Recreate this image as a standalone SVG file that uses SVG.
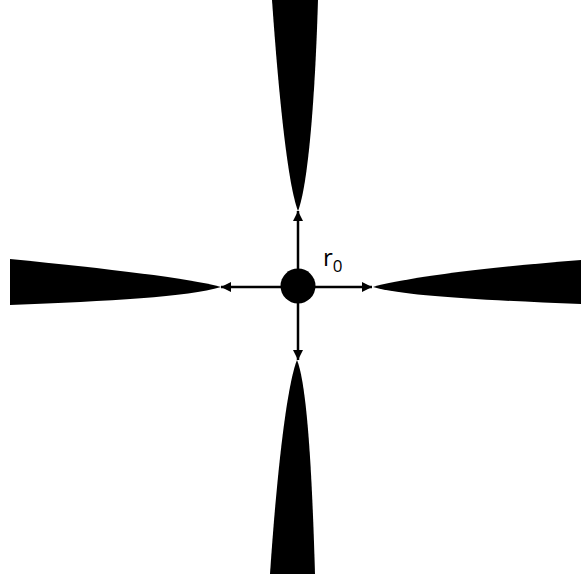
<svg xmlns="http://www.w3.org/2000/svg" width="581" height="584" viewBox="0 0 581 584">
<defs>
<marker id="ah" viewBox="0 0 10 10" refX="10" refY="5" markerWidth="4" markerHeight="4" markerUnits="strokeWidth" orient="auto">
<path d="M0,0 L10,5 L0,10 Z" fill="#000"/>
</marker>
</defs>
<style>
.spike{fill:#000}
.conn{stroke:#000;stroke-width:2.5;fill:none;marker-end:url(#ah)}
.lbl{font-family:"Open Sans","Liberation Sans",sans-serif;fill:#000}
</style>
<rect width="581" height="584" fill="#fff"/>
<g id="spike-top"><path class="spike" d="M272,0 L318,0 C315,100 308,185 298,211 C288,185 279,100 272,0 Z"/></g>
<g id="spike-bottom"><path class="spike" d="M270,574 L315,574 C312,470 307,385 297,360 C287,385 277,470 270,574 Z"/></g>
<g id="spike-left"><path class="spike" d="M10,259 L10,305 C110,301 188,297 221,287 C188,278 110,269 10,259 Z"/></g>
<g id="spike-right"><path class="spike" d="M581,260 L581,304 C480,300 405,296 373,287 C405,278 480,268 581,260 Z"/></g>
<g id="connectors">
<line class="conn" x1="298" y1="287" x2="298" y2="211"/>
<line class="conn" x1="298" y1="287" x2="298" y2="360"/>
<line class="conn" x1="298" y1="287" x2="221" y2="287"/>
<line class="conn" x1="298" y1="287" x2="372" y2="287"/>
</g>
<g id="center"><circle cx="298" cy="286" r="17.5" fill="#000"/></g>
<g id="label"><text class="lbl" x="323" y="266" font-size="24">r<tspan font-size="17" dy="6">0</tspan></text></g>
</svg>
